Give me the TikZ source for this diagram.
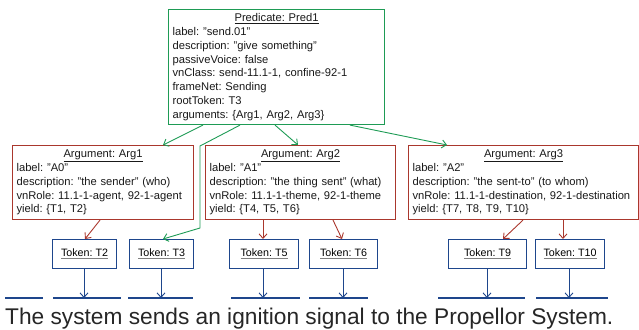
\documentclass[tikz,border=0pt]{standalone}
\usepackage{fontspec}
\setmainfont{Liberation Sans}
\usetikzlibrary{arrows.meta,calc}
\definecolor{pgreen}{RGB}{30,155,85}
\definecolor{pred}{RGB}{170,55,45}
\definecolor{pblue}{RGB}{30,70,140}
\newcommand{\ttl}[1]{\makebox[\linewidth]{\underline{#1}}}
\newcommand{\tok}[1]{{\color{gray}\underline{\textcolor{black}{#1}}}}
\frenchspacing
\begin{document}
\begin{tikzpicture}[x=1pt,y=-1pt,
  infobox/.style={draw, line width=1.1pt, anchor=north west, inner xsep=4pt, inner ysep=2pt,
    align=left, font=\fontsize{11.2}{13.8}\selectfont\frenchspacing, text=black!90},
  predbox/.style={infobox, draw=pgreen},
  argbox/.style={infobox, draw=pred},
  tokbox/.style={draw=pblue, line width=1.1pt, anchor=north west, minimum height=29pt,
    inner sep=0pt, font=\fontsize{10.7}{12}\selectfont\frenchspacing},
  garrow/.style={draw=pgreen, line width=0.9pt, -{Straight Barb[length=4.5pt,width=8pt]}},
  rarrow/.style={draw=pred, line width=0.9pt, -{Straight Barb[length=4.5pt,width=8pt]}},
  barrow/.style={draw=pblue, line width=0.9pt, -{Straight Barb[length=4.5pt,width=8pt]}},
  seg/.style={draw=pblue, line width=1.1pt}
]
\useasboundingbox (0,0) rectangle (639,329);

\node[predbox, text width=208pt, minimum height=115pt] (pr) at (168,9) {%
\ttl{Predicate: Pred1}\\
label: "send.01"\\
description: "give something"\\
passiveVoice: false\\
vnClass: send-11.1-1, confine-92-1\\
frameNet: Sending\\
rootToken: T3\\
arguments: \{Arg1, Arg2, Arg3\}};

\node[argbox, text width=173pt, minimum height=74pt] (a1) at (12,145) {%
\ttl{Argument: Arg1}\\
label: "A0"\\
description: "the sender" (who)\\
vnRole: 11.1-1-agent, 92-1-agent\\
yield: \{T1, T2\}};

\node[argbox, text width=182pt, minimum height=74pt] (a2) at (205,145) {%
\ttl{Argument: Arg2}\\
label: "A1"\\
description: "the thing sent" (what)\\
vnRole: 11.1-1-theme, 92-1-theme\\
yield: \{T4, T5, T6\}};

\node[argbox, text width=222pt, minimum height=74pt] (a3) at (408,145) {%
\ttl{Argument: Arg3}\\
label: "A2"\\
description: "the sent-to" (to whom)\\
vnRole: 11.1-1-destination, 92-1-destination\\
yield: \{T7, T8, T9, T10\}};

\node[tokbox, minimum width=64pt] (t2) at (52,239) {\tok{Token: T2}};
\node[tokbox, minimum width=64pt] (t3) at (129,239) {\tok{Token: T3}};
\node[tokbox, minimum width=69pt] (t5) at (229,239) {\tok{Token: T5}};
\node[tokbox, minimum width=68pt] (t6) at (309,239) {\tok{Token: T6}};
\node[tokbox, minimum width=78pt] (t9) at (448,239) {\tok{Token: T9}};
\node[tokbox, minimum width=69pt] (t10) at (535,239) {\tok{Token: T10}};

% green arrows
\draw[garrow] ([xshift=35pt]pr.south west) -- ([xshift=151pt]a1.north west);
\draw[garrow] ([xshift=107pt]pr.south west) -- ([xshift=93pt]a2.north west);
\draw[garrow] ([xshift=182pt]pr.south west) -- ([xshift=39pt]a3.north west);
\coordinate (g1) at (200,146);
\coordinate (g2) at (200,228);
\draw[garrow] ([xshift=72pt]pr.south west) -- (g1) -- (g2) -- ([xshift=34pt]t3.north west);

% red arrows
\draw[rarrow] ([xshift=88pt]a1.south west) -- ([xshift=33pt]t2.north west);
\draw[rarrow] ([xshift=58pt]a2.south west) -- ([xshift=34pt]t5.north west);
\draw[rarrow] ([xshift=128pt]a2.south west) -- ([xshift=33pt]t6.north west);
\draw[rarrow] ([xshift=115pt]a3.south west) -- ([xshift=55pt]t9.north west);
\draw[rarrow] ([xshift=155pt]a3.south west) -- ([xshift=28pt]t10.north west);

% baseline segments
\draw[seg] (5,298) -- (43,298);
\draw[seg] (53,298) -- (121,298);
\draw[seg] (128,298) -- (193,298);
\draw[seg] (231,298) -- (300,298);
\draw[seg] (309,298) -- (368,298);
\draw[seg] (438,298) -- (525,298);
\draw[seg] (536,298) -- (608,298);

% blue arrows
\foreach \t/\x in {t2/84,t3/161,t5/263,t6/343,t9/487,t10/569}{
  \coordinate (e\t) at (\x,298);
  \draw[barrow] (\t.south -| e\t) -- (e\t);
}

\node[anchor=base west, inner sep=0pt, font=\fontsize{22.7}{26}\selectfont, text=black!85] (sent) at (5,324)
  {The system sends an ignition signal to the Propellor System.};
\end{tikzpicture}
\end{document}
